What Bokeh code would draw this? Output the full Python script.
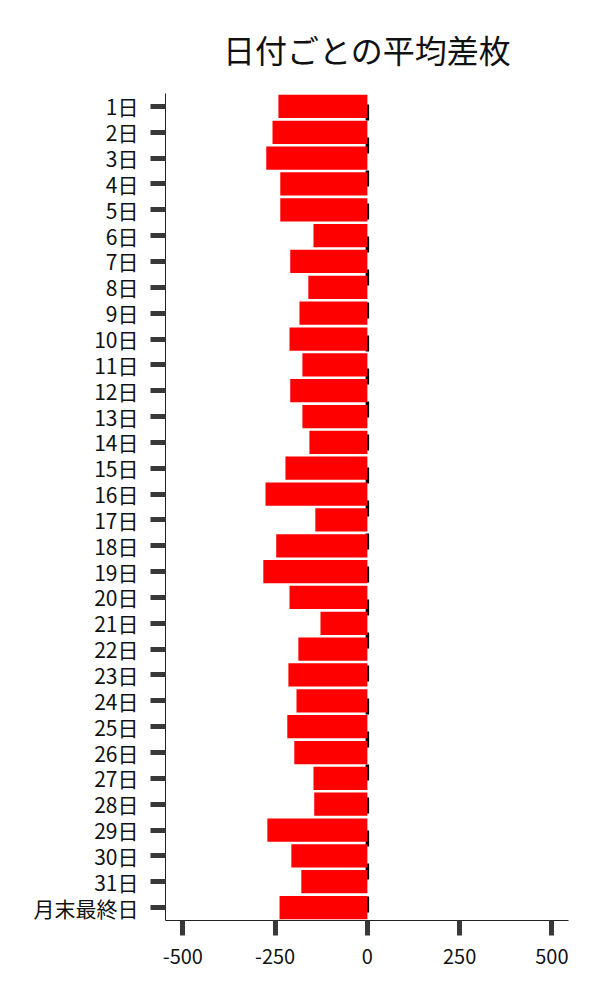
from bokeh.plotting import figure
from bokeh.models import FactorRange, Range1d, Span, FixedTicker, Title
from bokeh.embed import file_html
from bokeh.resources import INLINE

days = [f"{i}日" for i in range(1, 32)] + ["月末最終日"]
values = [-241, -257, -274, -236, -236, -146, -209, -160, -184, -211,
          -176, -209, -176, -157, -222, -276, -141, -247, -282, -211,
          -127, -187, -214, -192, -217, -198, -146, -144, -271, -206,
          -179, -238]
x_ticks = [-500, -250, 0, 250, 500]
x_tick_labels = ["-500", "-250", "0", "250", "500"]

FONT = "Noto Sans CJK JP"

p = figure(width=584, height=984, output_backend="svg", toolbar_location=None,
           y_range=FactorRange(factors=list(reversed(days))),
           x_range=Range1d(-547, 545),
           min_border_left=165, min_border_right=16,
           min_border_top=93, min_border_bottom=64)

p.title = Title(text="日付ごとの平均差枚", align="center",
                text_font=FONT, text_font_size="32px",
                text_font_style="normal", text_color="#111111",
                standoff=44)

zero = Span(location=0, dimension="height", line_color="black",
            line_width=3.5, line_dash="16 17", line_dash_offset=22,
            level="underlay")
p.add_layout(zero)

p.hbar(y=days, right=values, left=0, height=0.9, color="#ff0000", line_color=None)

p.xgrid.visible = False
p.ygrid.visible = False
p.outline_line_color = None

p.xaxis.ticker = FixedTicker(ticks=x_ticks)
p.xaxis.major_label_overrides = {t: l for t, l in zip(x_ticks, x_tick_labels)}
p.xaxis.minor_tick_line_color = None
for ax in (p.xaxis[0], p.yaxis[0]):
    ax.axis_line_color = "#222222"
    ax.axis_line_width = 1
    ax.major_tick_line_color = "#383838"
    ax.major_tick_line_width = 5
    ax.major_tick_out = 15
    ax.major_tick_in = 0
    ax.major_label_text_font = FONT
    ax.major_label_text_color = "#111111"
    ax.major_label_text_font_size = "20px"
p.yaxis.major_label_text_font_size = "21px"
p.yaxis.major_label_standoff = 12
p.xaxis.major_label_standoff = 13

open("out.html", "w").write(file_html(p, INLINE))
